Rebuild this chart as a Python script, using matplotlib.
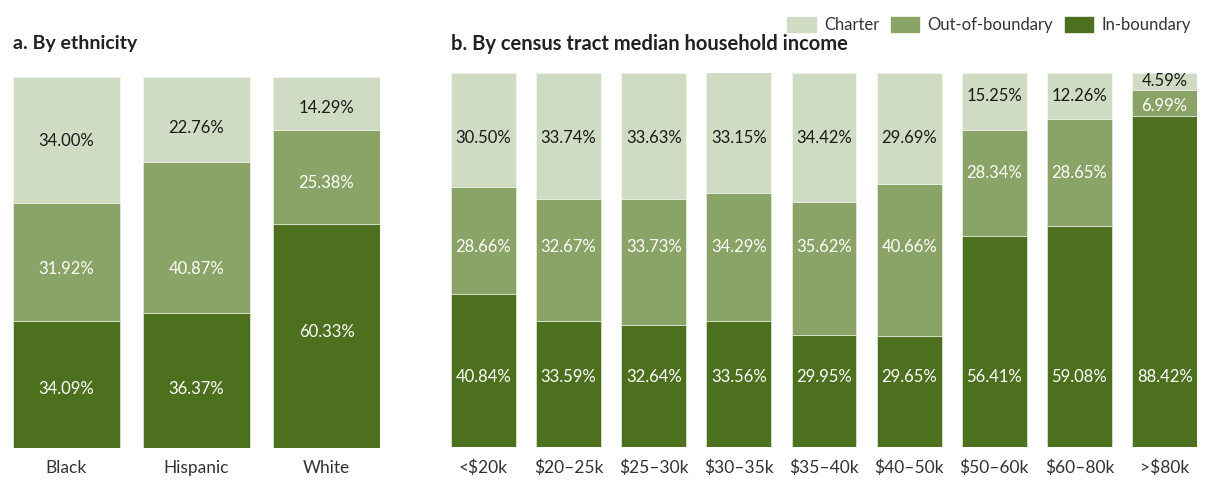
import matplotlib.pyplot as plt
import numpy as np
from matplotlib.patches import Patch

plt.rcParams["font.family"] = ["Lato", "DejaVu Sans"]

# panel a: by ethnicity
eth_cats = ["Black", "Hispanic", "White"]
eth_in = [34.09, 36.37, 60.33]
eth_out = [31.92, 40.87, 25.38]
eth_charter = [34.00, 22.76, 14.29]

# panel b: by census tract median household income
inc_cats = ["<$20k", "$20–25k", "$25–30k", "$30–35k", "$35–40k",
            "$40–50k", "$50–60k", "$60–80k", ">$80k"]
inc_in = [40.84, 33.59, 32.64, 33.56, 29.95, 29.65, 56.41, 59.08, 88.42]
inc_out = [28.66, 32.67, 33.73, 34.29, 35.62, 40.66, 28.34, 28.65, 6.99]
inc_charter = [30.50, 33.74, 33.63, 33.15, 34.42, 29.69, 15.25, 12.26, 4.59]

# where the value labels sit (axis %, the original aligns them in rows)
eth_lab_in = [15.8, 15.8, 31.2]
eth_lab_out = [48.2, 48.2, 71.4]
eth_lab_ch = [82.8, 86.2, 91.6]
inc_lab_in = [18.7] * 9
inc_lab_out = [53.5] * 6 + [73.3, 73.3, 91.2]
inc_lab_ch = [82.7] * 6 + [93.9, 93.9, 97.9]

C_IN = "#4c701e"
C_OUT = "#8aa366"
C_CH = "#d0dbc3"
TXT = "#333333"

W, H = 1211, 480
fig = plt.figure(figsize=(W / 100, H / 100), dpi=100)


def panel(rect, cats, s_in, s_out, s_ch, labs, width, title, tsize):
    ax = fig.add_axes(rect)
    x = np.arange(len(cats))
    s_in, s_out, s_ch = map(np.array, (s_in, s_out, s_ch))
    segs = [(s_in, 0, C_IN, "white"),
            (s_out, s_in, C_OUT, "white"),
            (s_ch, s_in + s_out, C_CH, "#1a1a1a")]
    for (vals, bottom, col, tcol), ly in zip(segs, labs):
        ax.bar(x, vals, width, bottom=bottom, color=col,
               edgecolor="#f4f7f0", linewidth=0.4)
        for xi, v, yy in zip(x, vals, ly):
            ax.text(xi, yy, f"{v:.2f}%", ha="center", va="center",
                    fontsize=12, color=tcol)
    ax.set_xlim(-width / 2, len(cats) - 1 + width / 2)
    ax.set_ylim(0, 100)
    ax.set_xticks(x)
    ax.set_xticklabels(cats, fontsize=12.5, color=TXT)
    ax.tick_params(length=0, pad=9)
    ax.set_yticks([])
    for s in ax.spines.values():
        s.set_visible(False)
    fig.text(rect[0], 1 - 44 / H, title, fontsize=tsize, fontweight="bold",
             color="#222222", va="center", ha="left")
    return ax


panel([13 / W, 1 - 447.7 / H, 367 / W, 370.4 / H], eth_cats,
      eth_in, eth_out, eth_charter, (eth_lab_in, eth_lab_out, eth_lab_ch),
      0.823, "a. By ethnicity", 14)
panel([451 / W, 1 - 447 / H, 746 / W, 374 / H], inc_cats,
      inc_in, inc_out, inc_charter, (inc_lab_in, inc_lab_out, inc_lab_ch),
      0.76, "b. By census tract median household income", 14.5)

handles = [Patch(color=C_CH, label="Charter"),
           Patch(color=C_OUT, label="Out-of-boundary"),
           Patch(color=C_IN, label="In-boundary")]
leg = fig.legend(handles=handles, loc="upper right", ncol=3,
                 bbox_to_anchor=(1206 / W, 1 - 2 / H), frameon=False,
                 fontsize=12, handlelength=1.7, handleheight=1.0,
                 handletextpad=0.5, columnspacing=0.7)
for t in leg.get_texts():
    t.set_color(TXT)

fig.savefig("out.png", dpi=100)
